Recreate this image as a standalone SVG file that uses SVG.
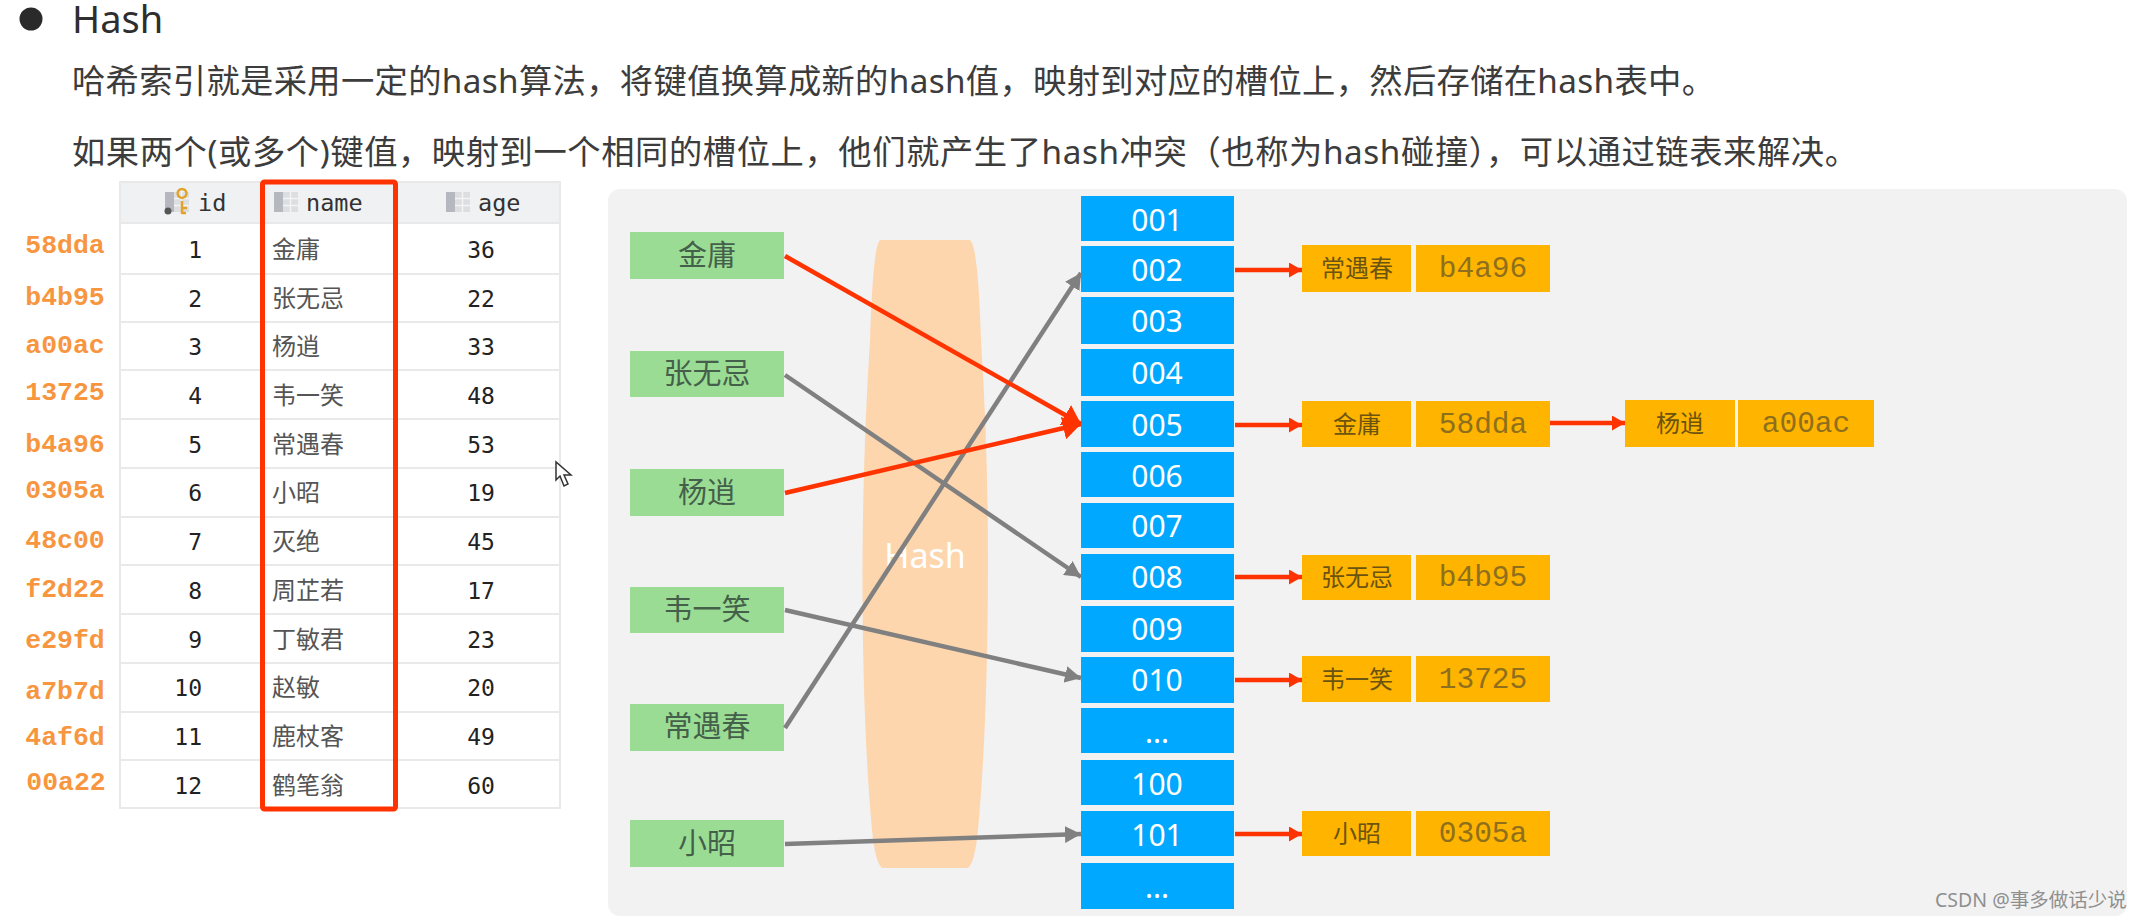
<svg xmlns="http://www.w3.org/2000/svg" width="2141" height="920" viewBox="0 0 2141 920">
<style>
text{font-family:"Noto Sans","Noto Sans CJK SC",sans-serif}
.para{font-size:33.3px;fill:#3c3c3c}
.mono{font-family:"DejaVu Sans Mono","Noto Sans CJK SC",monospace;font-size:23px;fill:#222}
.hdr{font-family:"DejaVu Sans Mono",monospace;font-size:23.5px;fill:#333}
.cn{font-family:"Noto Sans CJK SC",sans-serif;font-size:24px;fill:#555}
.hk{font-family:"Liberation Mono",monospace;font-weight:700;font-size:26.5px;fill:#f7963f;text-anchor:middle}
.row{fill:none;stroke:#e9e9e9;stroke-width:2}
.slot{fill:#00a9ff}
.slot-t{font-size:30px;fill:#fff;text-anchor:middle}
.green{fill:#9bdc94}
.green-t{font-family:"Noto Sans CJK SC",sans-serif;font-size:29px;fill:#44604a;text-anchor:middle}
.org{fill:#ffb400}
.org-c{font-family:"Noto Sans CJK SC",sans-serif;font-size:24px;fill:#6b5310;text-anchor:middle}
.org-m{font-family:"Liberation Mono",monospace;font-size:29.5px;fill:#8d6f1e;text-anchor:middle}
.gr{fill:none;stroke:#808080;stroke-width:4.5}
.rd{fill:none;stroke:#ff3300;stroke-width:4.5}
</style>
<defs>
<marker id="hg" markerUnits="userSpaceOnUse" markerWidth="16" markerHeight="17" refX="16" refY="8.5" orient="auto"><path d="M0 0L16 8.500L0 17z" fill="#808080"/></marker>
<marker id="hr" markerUnits="userSpaceOnUse" markerWidth="18" markerHeight="23" refX="18" refY="11.5" orient="auto"><path d="M0 0L18 11.500L0 23z" fill="#ff3300"/></marker>
<marker id="hs" markerUnits="userSpaceOnUse" markerWidth="13" markerHeight="15" refX="13" refY="7.5" orient="auto"><path d="M0 0L13 7.500L0 15z" fill="#ff3300"/></marker>
<g id="tbl"><rect width="24" height="20" fill="#dcdee2"/><rect width="9" height="20" fill="#b5b8bf"/><path d="M9 6.500H24M9 13.500H24M16.500 0V20" stroke="#f4f4f4" stroke-width="1.500"/></g>
</defs>

<g id="heading">
<circle cx="31" cy="19" r="11.5" fill="#2a2a2a"/>
<text x="72" y="33" font-size="38" fill="#2e2e2e">Hash</text>
<text class="para" x="72" y="93" textLength="1643" lengthAdjust="spacing">哈希索引就是采用一定的hash算法，将键值换算成新的hash值，映射到对应的槽位上，然后存储在hash表中。</text>
<text class="para" x="72" y="164" textLength="1786" lengthAdjust="spacing">如果两个(或多个)键值，映射到一个相同的槽位上，他们就产生了hash冲突（也称为hash碰撞），可以通过链表来解决。</text>
</g>

<g id="hash-keys">
<text class="hk" x="65" y="253">58dda</text>
<text class="hk" x="65" y="305">b4b95</text>
<text class="hk" x="65" y="353">a00ac</text>
<text class="hk" x="65" y="400">13725</text>
<text class="hk" x="65" y="452">b4a96</text>
<text class="hk" x="65" y="498">0305a</text>
<text class="hk" x="65" y="548">48c00</text>
<text class="hk" x="65" y="597">f2d22</text>
<text class="hk" x="65" y="648">e29fd</text>
<text class="hk" x="65" y="699">a7b7d</text>
<text class="hk" x="65" y="745">4af6d</text>
<text class="hk" x="66" y="790">00a22</text>
</g>

<g id="table">
<rect x="119" y="182" width="442" height="41" fill="#f0f1f2"/>
<rect x="120" y="182" width="440" height="626" class="row"/>
<path class="row" d="M120 223H560M120 274H560M120 322H560M120 370H560M120 419H560M120 468H560M120 517H560M120 565H560M120 614H560M120 663H560M120 712H560M120 760H560"/>
<g id="header-icons">
<use href="#tbl" x="165" y="192"/>
<path d="M182 198a4.500 4.500 0 1 1 .1 0zM182 201V214M182 208H187M182 213H186" fill="none" stroke="#e2a32c" stroke-width="2.500"/>
<circle cx="168" cy="211" r="3.500" fill="#555"/>
<use href="#tbl" x="274" y="192"/>
<use href="#tbl" x="446" y="192"/>
</g>
<text class="hdr" x="198" y="211">id</text>
<text class="hdr" x="306" y="211">name</text>
<text class="hdr" x="478" y="211">age</text>
<g text-anchor="end">
<text class="mono" x="202" y="258">1</text><text class="mono" x="202" y="307">2</text><text class="mono" x="202" y="355">3</text><text class="mono" x="202" y="404">4</text><text class="mono" x="202" y="453">5</text><text class="mono" x="202" y="501">6</text><text class="mono" x="202" y="550">7</text><text class="mono" x="202" y="599">8</text><text class="mono" x="202" y="648">9</text><text class="mono" x="202" y="696">10</text><text class="mono" x="202" y="745">11</text><text class="mono" x="202" y="794">12</text>
</g>
<g>
<text class="cn" x="272" y="258">金庸</text><text class="cn" x="272" y="307">张无忌</text><text class="cn" x="272" y="355">杨逍</text><text class="cn" x="272" y="404">韦一笑</text><text class="cn" x="272" y="453">常遇春</text><text class="cn" x="272" y="501">小昭</text><text class="cn" x="272" y="550">灭绝</text><text class="cn" x="272" y="599">周芷若</text><text class="cn" x="272" y="648">丁敏君</text><text class="cn" x="272" y="696">赵敏</text><text class="cn" x="272" y="745">鹿杖客</text><text class="cn" x="272" y="794">鹤笔翁</text>
</g>
<g text-anchor="middle">
<text class="mono" x="481" y="258">36</text><text class="mono" x="481" y="307">22</text><text class="mono" x="481" y="355">33</text><text class="mono" x="481" y="404">48</text><text class="mono" x="481" y="453">53</text><text class="mono" x="481" y="501">19</text><text class="mono" x="481" y="550">45</text><text class="mono" x="481" y="599">17</text><text class="mono" x="481" y="648">23</text><text class="mono" x="481" y="696">20</text><text class="mono" x="481" y="745">49</text><text class="mono" x="481" y="794">60</text>
</g>
<rect id="highlight" x="262.500" y="182" width="133" height="627" rx="2" fill="none" stroke="#ff3300" stroke-width="5"/>
</g>

<path id="cursor" d="M556 462L556 480L560 476L564 486L568 484L564 475L571 475Z" fill="#fff" stroke="#333" stroke-width="1.500"/>

<rect id="panel" x="608" y="189" width="1519" height="727" rx="12" fill="#f2f2f3"/>

<g id="hash-band">
<path d="M880 240H970Q978 245 981 340Q988 450 988 560Q988 720 978 830Q975 862 968 868H882Q875 862 872 830Q862 720 862.500 560Q863 450 870 340Q873 245 880 240Z" fill="#fed6ae"/>
<text x="925" y="568" font-size="34" fill="#fff" text-anchor="middle">Hash</text>
</g>

<g id="keys">
<g id="key-1"><rect class="green" x="630" y="232" width="154" height="47"/><text class="green-t" x="707" y="266">金庸</text></g>
<g id="key-2"><rect class="green" x="630" y="351" width="154" height="46"/><text class="green-t" x="707" y="384">张无忌</text></g>
<g id="key-3"><rect class="green" x="630" y="469" width="154" height="47"/><text class="green-t" x="707" y="503">杨逍</text></g>
<g id="key-4"><rect class="green" x="630" y="587" width="154" height="46"/><text class="green-t" x="707" y="620">韦一笑</text></g>
<g id="key-5"><rect class="green" x="630" y="704" width="154" height="47"/><text class="green-t" x="707" y="737">常遇春</text></g>
<g id="key-6"><rect class="green" x="630" y="820" width="154" height="47"/><text class="green-t" x="707" y="854">小昭</text></g>
</g>

<g id="slots">
<g id="slot-001"><rect class="slot" x="1081" y="196" width="153" height="45"/><text class="slot-t" x="1157" y="231">001</text></g>
<g id="slot-002"><rect class="slot" x="1081" y="246" width="153" height="46"/><text class="slot-t" x="1157" y="281">002</text></g>
<g id="slot-003"><rect class="slot" x="1081" y="297" width="153" height="47"/><text class="slot-t" x="1157" y="332">003</text></g>
<g id="slot-004"><rect class="slot" x="1081" y="349" width="153" height="47"/><text class="slot-t" x="1157" y="384">004</text></g>
<g id="slot-005"><rect class="slot" x="1081" y="401" width="153" height="46"/><text class="slot-t" x="1157" y="436">005</text></g>
<g id="slot-006"><rect class="slot" x="1081" y="452" width="153" height="45"/><text class="slot-t" x="1157" y="487">006</text></g>
<g id="slot-007"><rect class="slot" x="1081" y="503" width="153" height="45"/><text class="slot-t" x="1157" y="537">007</text></g>
<g id="slot-008"><rect class="slot" x="1081" y="554" width="153" height="46"/><text class="slot-t" x="1157" y="588">008</text></g>
<g id="slot-009"><rect class="slot" x="1081" y="606" width="153" height="46"/><text class="slot-t" x="1157" y="640">009</text></g>
<g id="slot-010"><rect class="slot" x="1081" y="657" width="153" height="46"/><text class="slot-t" x="1157" y="691">010</text></g>
<g id="slot-more-1"><rect class="slot" x="1081" y="708" width="153" height="45"/><text class="slot-t" x="1157" y="743">...</text></g>
<g id="slot-100"><rect class="slot" x="1081" y="760" width="153" height="45"/><text class="slot-t" x="1157" y="795">100</text></g>
<g id="slot-101"><rect class="slot" x="1081" y="811" width="153" height="45"/><text class="slot-t" x="1157" y="846">101</text></g>
<g id="slot-more-2"><rect class="slot" x="1081" y="863" width="153" height="46"/><text class="slot-t" x="1157" y="898">...</text></g>
</g>

<g id="entries">
<g id="entry-b4a96"><rect class="org" x="1302" y="245" width="109" height="47"/><rect class="org" x="1416" y="245" width="134" height="47"/><text class="org-c" x="1357" y="277">常遇春</text><text class="org-m" x="1483" y="277">b4a96</text></g>
<g id="entry-58dda"><rect class="org" x="1302" y="401" width="109" height="46"/><rect class="org" x="1416" y="401" width="134" height="46"/><text class="org-c" x="1357" y="433">金庸</text><text class="org-m" x="1483" y="433">58dda</text></g>
<g id="entry-a00ac"><rect class="org" x="1625" y="400" width="110" height="47"/><rect class="org" x="1738" y="400" width="136" height="47"/><text class="org-c" x="1680" y="432">杨逍</text><text class="org-m" x="1806" y="432">a00ac</text></g>
<g id="entry-b4b95"><rect class="org" x="1302" y="555" width="109" height="45"/><rect class="org" x="1416" y="555" width="134" height="45"/><text class="org-c" x="1357" y="586">张无忌</text><text class="org-m" x="1483" y="586">b4b95</text></g>
<g id="entry-13725"><rect class="org" x="1302" y="656" width="109" height="46"/><rect class="org" x="1416" y="656" width="134" height="46"/><text class="org-c" x="1357" y="688">韦一笑</text><text class="org-m" x="1483" y="688">13725</text></g>
<g id="entry-0305a"><rect class="org" x="1302" y="811" width="109" height="45"/><rect class="org" x="1416" y="811" width="134" height="45"/><text class="org-c" x="1357" y="842">小昭</text><text class="org-m" x="1483" y="842">0305a</text></g>
</g>

<g id="connectors">
<line class="gr" x1="785" y1="375" x2="1081" y2="577" marker-end="url(#hg)"/>
<line class="gr" x1="785" y1="728" x2="1081" y2="273" marker-end="url(#hg)"/>
<line class="gr" x1="785" y1="610" x2="1081" y2="678" marker-end="url(#hg)"/>
<line class="gr" x1="785" y1="844" x2="1081" y2="834" marker-end="url(#hg)"/>
<line class="rd" x1="785" y1="256" x2="1081" y2="424" marker-end="url(#hr)"/>
<line class="rd" x1="785" y1="493" x2="1081" y2="424" marker-end="url(#hr)"/>
<line class="rd" x1="1235" y1="270" x2="1302" y2="270" marker-end="url(#hs)"/>
<line class="rd" x1="1235" y1="425" x2="1302" y2="425" marker-end="url(#hs)"/>
<line class="rd" x1="1235" y1="577" x2="1302" y2="577" marker-end="url(#hs)"/>
<line class="rd" x1="1235" y1="680" x2="1302" y2="680" marker-end="url(#hs)"/>
<line class="rd" x1="1235" y1="834" x2="1302" y2="834" marker-end="url(#hs)"/>
<line class="rd" x1="1550" y1="423" x2="1625" y2="423" marker-end="url(#hs)"/>
</g>

<text id="watermark" x="1935" y="907" font-size="19.5" fill="#8f8f8f">CSDN @事多做话少说</text>
</svg>
